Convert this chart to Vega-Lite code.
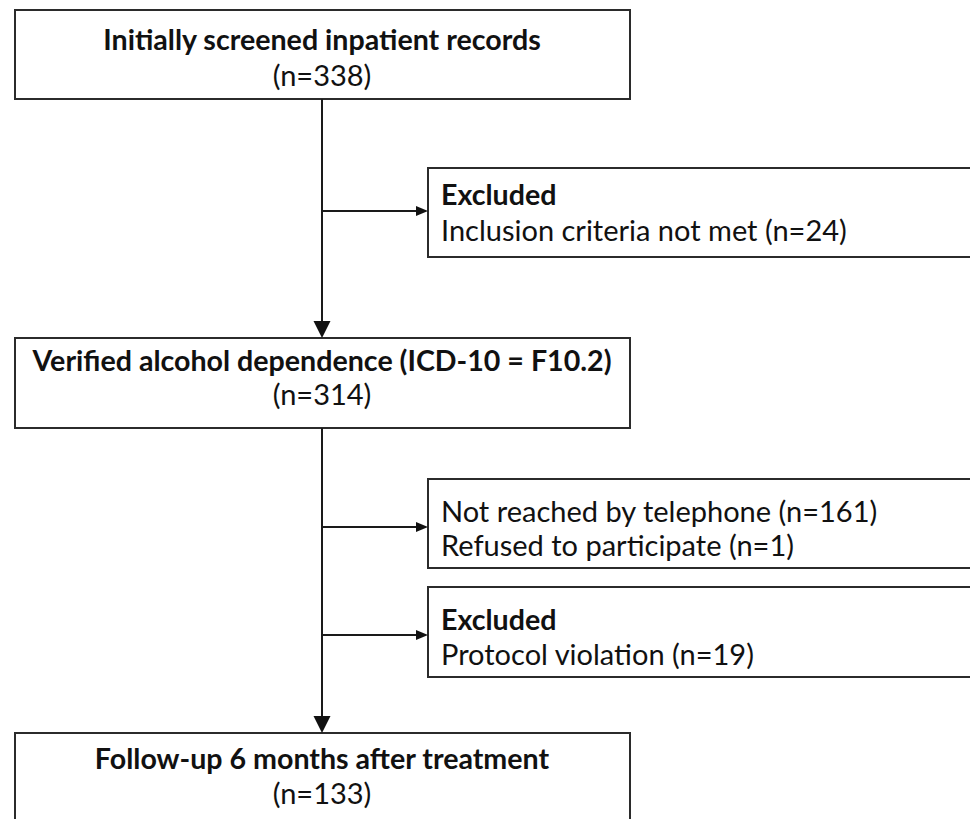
{
  "$schema": "https://vega.github.io/schema/vega-lite/v6.json",
  "width": 970,
  "height": 819,
  "autosize": {"type": "fit", "contains": "padding"},
  "padding": 0,
  "background": "white",
  "config": {"view": {"stroke": null}},
  "datasets": {
    "boxes": [
      {"id": "screened", "x": 15, "x2": 630, "y": 10, "y2": 99},
      {"id": "excluded1", "x": 428, "x2": 990, "y": 168, "y2": 257},
      {"id": "verified", "x": 15, "x2": 630, "y": 338, "y2": 428},
      {"id": "notreached", "x": 428, "x2": 990, "y": 479, "y2": 568},
      {"id": "excluded2", "x": 428, "x2": 990, "y": 587, "y2": 677},
      {"id": "followup", "x": 15, "x2": 630, "y": 733, "y2": 840}
    ],
    "lines": [
      {"x": 322, "x2": 322, "y": 99, "y2": 330},
      {"x": 322, "x2": 322, "y": 428, "y2": 725},
      {"x": 322, "x2": 420, "y": 211, "y2": 211},
      {"x": 322, "x2": 420, "y": 527, "y2": 527},
      {"x": 322, "x2": 420, "y": 635, "y2": 635}
    ],
    "downArrows": [
      {"x": 322, "y": 329.5},
      {"x": 322, "y": 724.5}
    ],
    "rightArrows": [
      {"x": 422, "y": 211},
      {"x": 422, "y": 527},
      {"x": 422, "y": 635}
    ],
    "labels": [
      {"x": 322, "y": 41, "text": "Initially screened inpatient records", "role": "main-title"},
      {"x": 322, "y": 77, "text": "(n=338)", "role": "main-count"},
      {"x": 441, "y": 196, "text": "Excluded", "role": "side-title"},
      {"x": 441, "y": 232, "text": "Inclusion criteria not met (n=24)", "role": "side-body"},
      {"x": 322, "y": 362, "text": "Verified alcohol dependence (ICD-10 = F10.2)", "role": "main-title"},
      {"x": 322, "y": 396, "text": "(n=314)", "role": "main-count"},
      {"x": 441, "y": 513, "text": "Not reached by telephone (n=161)", "role": "side-body"},
      {"x": 441, "y": 547, "text": "Refused to participate (n=1)", "role": "side-body"},
      {"x": 441, "y": 621, "text": "Excluded", "role": "side-title"},
      {"x": 441, "y": 656, "text": "Protocol violation (n=19)", "role": "side-body"},
      {"x": 322, "y": 760, "text": "Follow-up 6 months after treatment", "role": "main-title"},
      {"x": 322, "y": 795, "text": "(n=133)", "role": "main-count"}
    ]
  },
  "layer": [
    {
      "data": {"name": "boxes"},
      "mark": {"type": "rect", "fill": "white", "stroke": "#2b2b2b", "strokeWidth": 2, "clip": true},
      "encoding": {
        "x": {"field": "x", "type": "quantitative", "scale": {"domain": [0, 970], "nice": false, "zero": false}, "axis": null},
        "x2": {"field": "x2"},
        "y": {"field": "y", "type": "quantitative", "scale": {"domain": [819, 0], "nice": false, "zero": false}, "axis": null},
        "y2": {"field": "y2"}
      }
    },
    {
      "data": {"name": "lines"},
      "mark": {"type": "rule", "stroke": "#1a1a1a", "strokeWidth": 2},
      "encoding": {
        "x": {"field": "x", "type": "quantitative"},
        "x2": {"field": "x2"},
        "y": {"field": "y", "type": "quantitative"},
        "y2": {"field": "y2"}
      }
    },
    {
      "data": {"name": "downArrows"},
      "mark": {"type": "point", "shape": "M-1,-1L1,-1L0,1Z", "size": 289, "filled": true, "fill": "#111", "opacity": 1, "strokeWidth": 0},
      "encoding": {
        "x": {"field": "x", "type": "quantitative"},
        "y": {"field": "y", "type": "quantitative"}
      }
    },
    {
      "data": {"name": "rightArrows"},
      "mark": {"type": "point", "shape": "M-1,-0.85L1,0L-1,0.85Z", "size": 144, "filled": true, "fill": "#111", "opacity": 1, "strokeWidth": 0},
      "encoding": {
        "x": {"field": "x", "type": "quantitative"},
        "y": {"field": "y", "type": "quantitative"}
      }
    },
    {
      "data": {"name": "labels"},
      "transform": [{"filter": "datum.role === 'main-title'"}],
      "mark": {"type": "text", "font": "Lato", "fontWeight": "bold", "fontSize": 28.6, "align": "center", "baseline": "middle", "color": "#111"},
      "encoding": {
        "x": {"field": "x", "type": "quantitative"},
        "y": {"field": "y", "type": "quantitative"},
        "text": {"field": "text"}
      }
    },
    {
      "data": {"name": "labels"},
      "transform": [{"filter": "datum.role === 'main-count'"}],
      "mark": {"type": "text", "font": "Lato", "fontSize": 29, "align": "center", "baseline": "middle", "color": "#111"},
      "encoding": {
        "x": {"field": "x", "type": "quantitative"},
        "y": {"field": "y", "type": "quantitative"},
        "text": {"field": "text"}
      }
    },
    {
      "data": {"name": "labels"},
      "transform": [{"filter": "datum.role === 'side-title'"}],
      "mark": {"type": "text", "font": "Lato", "fontWeight": "bold", "fontSize": 28.6, "align": "left", "baseline": "middle", "color": "#111"},
      "encoding": {
        "x": {"field": "x", "type": "quantitative"},
        "y": {"field": "y", "type": "quantitative"},
        "text": {"field": "text"}
      }
    },
    {
      "data": {"name": "labels"},
      "transform": [{"filter": "datum.role === 'side-body'"}],
      "mark": {"type": "text", "font": "Lato", "fontSize": 29, "align": "left", "baseline": "middle", "color": "#111"},
      "encoding": {
        "x": {"field": "x", "type": "quantitative"},
        "y": {"field": "y", "type": "quantitative"},
        "text": {"field": "text"}
      }
    }
  ]
}
